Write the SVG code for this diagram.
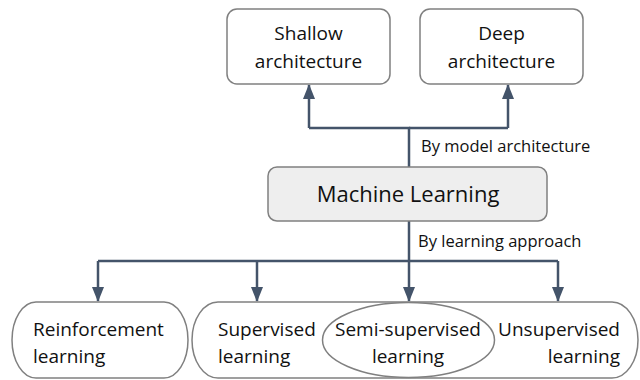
<svg xmlns="http://www.w3.org/2000/svg" width="640" height="380" viewBox="0 0 640 380">
  <defs>
    <style>
      .box { fill: #ffffff; stroke: #808080; stroke-width: 1.5; }
      .root { fill: #eeeeee; stroke: #808080; stroke-width: 1.5; }
      .lbl { font-family: "Open Sans", "DejaVu Sans", sans-serif; font-size: 19px; fill: #111111; }
      .mid { text-anchor: middle; }
      .end { text-anchor: end; }
      .title { font-size: 22px; }
      .edge-lbl { font-size: 16.5px; }
      .wire { fill: none; stroke: #44546a; stroke-width: 2.5; }
      .arrow { stroke: #44546a; stroke-width: 2.5; marker-end: url(#head); }
    </style>
    <marker id="head" viewBox="0 0 15 12" refX="14" refY="6" markerWidth="15" markerHeight="12" markerUnits="userSpaceOnUse" orient="auto">
      <path d="M0,0 L15,6 L0,12 Z" fill="#44546a"/>
    </marker>
  </defs>

  <!-- connectors -->
  <g id="connectors">
    <path class="wire" d="M409 167 V128 H309"/>
    <path class="wire" d="M409 128 H508"/>
    <line class="arrow" x1="309" y1="128" x2="309" y2="85"/>
    <line class="arrow" x1="508" y1="128" x2="508" y2="85"/>
    <path class="wire" d="M409 221 V261"/>
    <path class="wire" d="M98 261 H558"/>
    <line class="arrow" x1="98" y1="261" x2="98" y2="301"/>
    <line class="arrow" x1="257" y1="261" x2="257" y2="301"/>
    <line class="arrow" x1="409" y1="261" x2="409" y2="301"/>
    <line class="arrow" x1="558" y1="261" x2="558" y2="301"/>
    <text class="lbl edge-lbl" x="421" y="152">By model architecture</text>
    <text class="lbl edge-lbl" x="418" y="247">By learning approach</text>
  </g>

  <!-- top row -->
  <g id="shallow">
    <rect class="box" x="227" y="9" width="163" height="75" rx="10"/>
    <text class="lbl mid" x="308.5" y="40">Shallow</text>
    <text class="lbl mid" x="308.5" y="68">architecture</text>
  </g>
  <g id="deep">
    <rect class="box" x="420" y="9" width="163" height="75" rx="10"/>
    <text class="lbl mid" x="501.5" y="40">Deep</text>
    <text class="lbl mid" x="501.5" y="68">architecture</text>
  </g>

  <!-- root -->
  <g id="machine-learning">
    <rect class="root" x="268" y="167" width="279" height="54" rx="9"/>
    <text class="lbl title mid" x="408" y="202">Machine Learning</text>
  </g>

  <!-- bottom row -->
  <g id="reinforcement">
    <path class="box" d="M36 302 H164 A24 38 0 0 1 164 378 H36 A24 38 0 0 1 36 302 Z"/>
    <text class="lbl" x="33" y="336">Reinforcement</text>
    <text class="lbl" x="33" y="363">learning</text>
  </g>
  <g id="supervised-unsupervised">
    <path class="box" d="M218 302 H612 A26 38 0 0 1 612 378 H218 A26 38 0 0 1 218 302 Z"/>
  </g>
  <g id="supervised">
    <text class="lbl" x="218" y="336">Supervised</text>
    <text class="lbl" x="218" y="363">learning</text>
  </g>
  <g id="unsupervised">
    <text class="lbl end" x="620" y="336">Unsupervised</text>
    <text class="lbl end" x="620" y="363">learning</text>
  </g>
  <g id="semi-supervised">
    <ellipse class="box" cx="408.5" cy="340" rx="86" ry="37.5"/>
    <text class="lbl mid" x="408" y="336">Semi-supervised</text>
    <text class="lbl mid" x="408" y="363">learning</text>
  </g>
</svg>
